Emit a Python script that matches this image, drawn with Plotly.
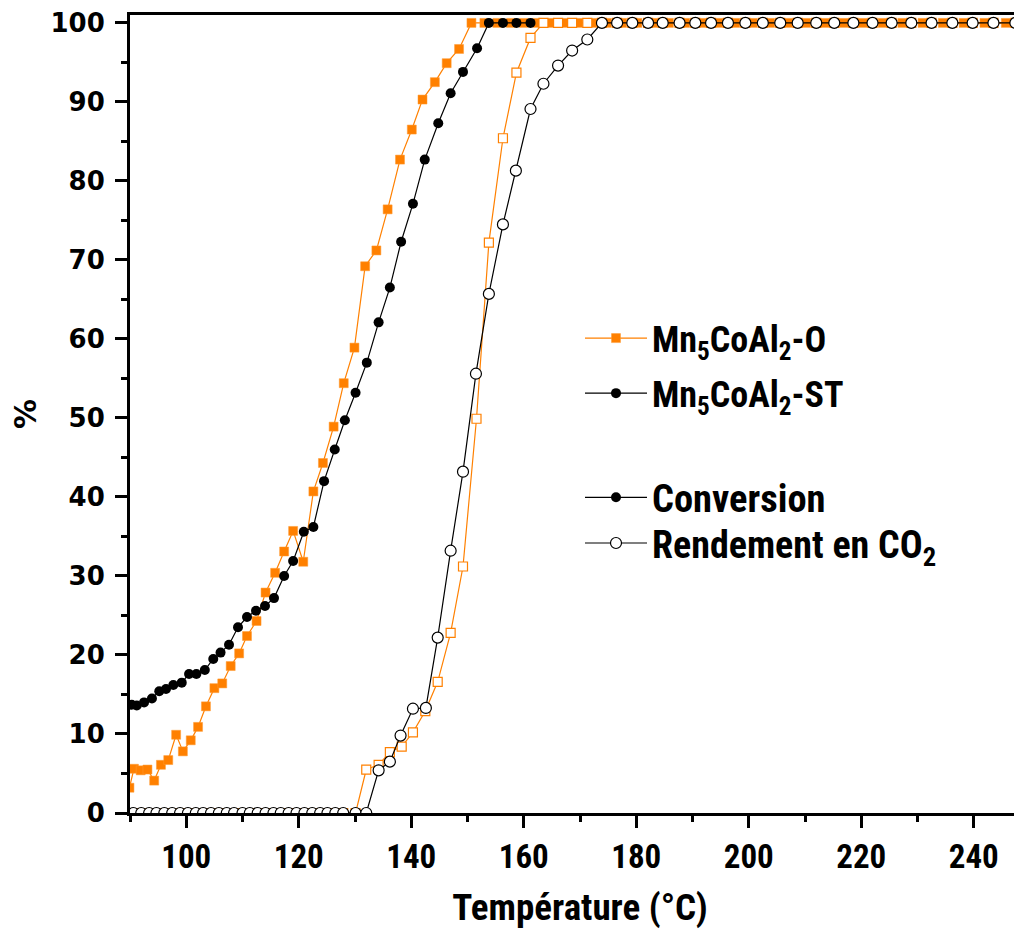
import plotly.graph_objects as go

# temperatures where both CO2-yield curves are still at zero
t_zero = [90.6, 92.0, 93.4, 94.7, 96.1, 97.5, 98.9, 100.3, 101.7, 103.0, 104.4,
          105.8, 107.2, 108.5, 110.0, 111.3, 112.7, 114.1, 115.5, 116.8, 118.2,
          119.6, 121.0, 122.4, 123.8, 125.1, 126.5, 127.9, 130.1]
# plateau temperatures (100 %) of the yield curves
t_plateau = [173.9, 176.6, 179.3, 182.1, 184.7, 187.7, 190.5, 193.3, 196.3, 199.4,
             202.5, 205.6, 208.7, 212.0, 215.2, 218.6, 222.0, 225.4, 228.9, 232.5,
             236.2, 239.8, 243.5, 247.4]

# Mn5CoAl2-O, conversion (filled squares)
o_conv_t = [89.9, 90.7, 91.9, 93.1, 94.3, 95.5, 96.8, 98.2, 99.4, 100.8, 102.1,
            103.5, 105.0, 106.4, 107.9, 109.4, 110.8, 112.5, 114.1, 115.8, 117.4,
            119.0, 120.8, 122.6, 124.3, 126.2, 128.0, 129.9, 131.8, 133.8, 135.8,
            138.0, 140.1, 142.0, 144.2, 146.3, 148.5, 150.7, 153.0, 155.3, 157.7,
            160.0, 162.4, 164.8, 167.2, 169.7, 172.2, 174.8, 177.5, 180.2, 183.0,
            185.8, 188.7, 191.6, 194.6, 197.6, 200.7, 203.8, 207.0, 210.2, 213.5,
            216.9, 220.3, 223.8, 227.3, 230.9, 234.5, 238.2, 241.9, 245.7, 249.5]
o_conv = [3.2, 5.6, 5.4, 5.5, 4.1, 6.1, 6.7, 9.9, 7.8, 9.2, 10.9,
          13.5, 15.8, 16.4, 18.6, 20.2, 22.4, 24.3, 27.9, 30.4, 33.1,
          35.7, 31.8, 40.7, 44.3, 48.9, 54.4, 58.9, 69.2, 71.2, 76.4,
          82.7, 86.5, 90.3, 92.5, 94.9, 96.7, 100, 100, 100, 100,
          100, 100, 100, 100, 100, 100, 100, 100, 100, 100,
          100, 100, 100, 100, 100, 100, 100, 100, 100, 100,
          100, 100, 100, 100, 100, 100, 100, 100, 100, 100]

# Mn5CoAl2-ST, conversion (filled circles)
st_conv_t = [90.3, 91.2, 92.5, 93.9, 95.2, 96.4, 97.7, 99.2, 100.5, 101.8,
             103.3, 104.8, 106.1, 107.6, 109.2, 110.8, 112.4, 114.0, 115.6, 117.4,
             119.0, 120.9, 122.6, 124.5, 126.4, 128.2, 130.1, 132.1, 134.2, 136.2,
             138.2, 140.3, 142.4, 144.8, 147.0, 149.2, 151.7, 153.8, 156.3, 158.7,
             161.2]
st_conv = [13.7, 13.6, 14.0, 14.5, 15.4, 15.7, 16.2, 16.5, 17.6, 17.6,
           18.1, 19.5, 20.3, 21.3, 23.5, 24.8, 25.6, 26.2, 27.2, 30.0,
           31.9, 35.6, 36.2, 42.0, 46.0, 49.7, 53.2, 57.0, 62.1, 66.5,
           72.3, 77.1, 82.7, 87.3, 91.1, 93.8, 96.8, 100, 100, 100,
           100]

# Mn5CoAl2-O, CO2 yield (open squares)
o_yield_t = t_zero + [132.0, 134.2, 136.2, 138.3, 140.3, 142.5, 144.7, 147.0,
                      149.2, 151.6, 153.8, 156.3, 158.7, 161.2, 163.5, 166.1,
                      168.6, 171.3] + t_plateau
o_yield = [0] * len(t_zero) + [5.5, 6.1, 7.7, 8.4, 10.2, 12.9, 16.6, 22.8,
                               31.2, 49.9, 72.2, 85.4, 93.7, 98.1, 100, 100,
                               100, 100] + [100] * len(t_plateau)

# Mn5CoAl2-ST, CO2 yield (open circles)
st_yield_t = t_zero + [132.0, 134.2, 136.2, 138.1, 140.3, 142.6, 144.7, 147.0,
                       149.2, 151.5, 153.8, 156.3, 158.6, 161.2, 163.5, 166.1,
                       168.6, 171.3] + t_plateau
st_yield = [0] * len(t_zero) + [0, 5.4, 6.5, 9.8, 13.2, 13.3, 22.2, 33.2,
                                43.2, 55.6, 65.7, 74.5, 81.3, 89.1, 92.3, 94.6,
                                96.5, 97.9] + [100] * len(t_plateau)

ORANGE = "#FF8000"
NARROW = "Liberation Sans Narrow, Arial Narrow, Roboto Condensed, Liberation Sans, sans-serif"

fig = go.Figure()

fig.add_trace(go.Scatter(
    x=o_conv_t, y=o_conv, mode="lines+markers",
    name="Mn<sub>5</sub>CoAl<sub>2</sub>-O",
    line=dict(color=ORANGE, width=1.2),
    marker=dict(symbol="square", size=9, color=ORANGE,
                line=dict(color="#FF9a33", width=0.5)),
    legend="legend",
))
fig.add_trace(go.Scatter(
    x=st_conv_t, y=st_conv, mode="lines+markers",
    name="Mn<sub>5</sub>CoAl<sub>2</sub>-ST",
    line=dict(color="black", width=1.2),
    marker=dict(symbol="circle", size=10, color="black"),
    legend="legend2",
))
# open squares = white-filled squares with orange edge
fig.add_trace(go.Scatter(
    x=o_yield_t, y=o_yield, mode="lines+markers",
    name="O yield", showlegend=False,
    line=dict(color=ORANGE, width=1.2),
    marker=dict(symbol="square", size=9, color="white",
                line=dict(color=ORANGE, width=1.2)),
))
# legend-only entry for "Conversion"
fig.add_trace(go.Scatter(
    x=[None], y=[None], mode="lines+markers", name="Conversion",
    line=dict(color="black", width=1.2),
    marker=dict(symbol="circle", size=10, color="black"),
    legend="legend3",
))
fig.add_trace(go.Scatter(
    x=st_yield_t, y=st_yield, mode="lines+markers",
    name="Rendement en CO<sub>2</sub>",
    line=dict(color="black", width=1.2),
    marker=dict(symbol="circle", size=11, color="white",
                line=dict(color="black", width=1.2)),
    legend="legend4",
))

fig.update_xaxes(
    range=[90, 250],
    tickvals=[100, 120, 140, 160, 180, 200, 220, 240],
    ticks="outside", ticklen=12, tickwidth=3, tickcolor="black",
    minor=dict(dtick=10, tick0=90, ticks="outside", ticklen=6, tickwidth=3,
               tickcolor="black"),
    showline=True, linewidth=3, linecolor="black", mirror=True,
    showgrid=False, zeroline=False,
    tickfont=dict(family=NARROW, size=33, color="black", weight="bold"),
    title=dict(text="Température (°C)", font=dict(family=NARROW, size=37,
                                                   color="black", weight="bold"),
               standoff=20),
)
fig.update_yaxes(
    range=[0, 101],
    tickvals=[0, 10, 20, 30, 40, 50, 60, 70, 80, 90, 100],
    ticks="outside", ticklen=12, tickwidth=3, tickcolor="black",
    minor=dict(dtick=5, ticks="outside", ticklen=6, tickwidth=3,
               tickcolor="black"),
    showline=True, linewidth=3, linecolor="black",
    showgrid=False, zeroline=False,
    ticklabelstandoff=5,
    tickfont=dict(family="DejaVu Sans", size=26, color="black", weight="bold"),
    title=dict(text="%", font=dict(family="DejaVu Sans", size=30,
                                   color="black", weight="bold"),
               standoff=18),
)


def legend_box(y, size):
    return dict(
        x=0.5, y=y, xanchor="left", yanchor="middle",
        itemwidth=62,
        font=dict(family=NARROW, size=size, color="black", weight="bold"),
        bgcolor="rgba(0,0,0,0)", borderwidth=0,
    )


# the page body adds an 8 px offset, so the margins are shifted to compensate
fig.update_layout(
    width=1022, height=935,
    margin=dict(l=122, r=0, t=7, b=130),
    paper_bgcolor="white", plot_bgcolor="white",
    legend=legend_box(0.595, 36),
    legend2=legend_box(0.526, 36),
    legend3=legend_box(0.395, 38.5),
    legend4=legend_box(0.338, 38),
)

fig.write_html("out.html")
